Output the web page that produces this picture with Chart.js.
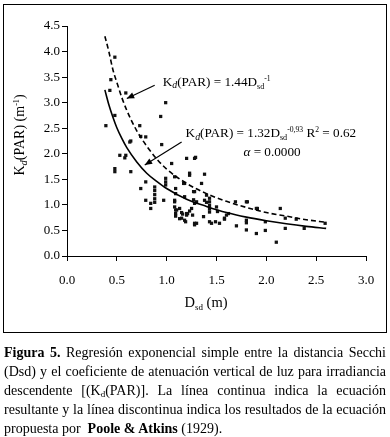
<!DOCTYPE html>
<html>
<head>
<meta charset="utf-8">
<script src="https://cdn.jsdelivr.net/npm/chart.js@4.4.1/dist/chart.umd.min.js"></script>
<style>
  html, body { margin: 0; padding: 0; background: #fff; width: 390px; height: 437px; overflow: hidden; }
  #c { position: absolute; left: 0; top: 0; }
  #frame { position: absolute; left: 3px; top: 4px; width: 382px; height: 327px; border: 1px solid #000; pointer-events: none; }
  #cap { position: absolute; left: 4px; top: 343px; width: 382px; font-family: "Liberation Serif", "Times New Roman", serif; font-size: 14px; line-height: 19px; color: #000; }
  #cap div { text-align: justify; text-align-last: justify; white-space: nowrap; }
  #cap div.last { text-align: left; text-align-last: left; }
  #cap sub { font-size: 9px; vertical-align: -2px; line-height: 0; }
</style>
</head>
<body>
<canvas id="c" width="390" height="335"></canvas>
<div id="frame"></div>
<div id="cap">
  <div><b>Figura 5.</b> Regresión exponencial simple entre la distancia Secchi</div>
  <div>(Dsd) y el coeficiente de atenuación vertical de luz para irradiancia</div>
  <div>descendente [(K<sub>d</sub>(PAR)]. La línea continua indica la ecuación</div>
  <div>resultante y la línea discontinua indica los resultados de la ecuación</div>
  <div class="last">propuesta por &nbsp;<b>Poole &amp; Atkins</b> (1929).</div>
</div>
<script>
// ---- data ----
const obsX = [0.39,0.43,0.44,0.48,0.59,0.48,0.94,0.99,0.73,0.74,0.79,0.95,0.64,
  0.48,0.48,0.53,0.59,0.58,0.64,0.63,0.79,0.74,
  0.88,0.88,0.88,0.88,0.88,0.84,0.84,0.79,0.97,0.99,0.99,0.99,
  1.05,1.08,1.09,1.09,1.08,1.08,1.09,1.09,1.09,1.13,1.13,1.15,1.16,1.18,1.19,1.20,1.21,1.23,1.25,1.26,1.28,1.30,
  1.20,1.28,1.29,1.28,1.30,1.18,1.23,1.23,1.38,1.35,1.18,1.28,1.38,
  1.43,1.43,1.43,1.43,1.43,1.50,1.51,1.60,1.58,1.43,1.49,1.28,1.70,1.80,1.80,1.90,1.99,2.10,2.19,1.80,1.90,1.99,2.14,2.19,2.30,2.38,2.59,1.69,1.58,
  1.27,1.27,1.40,1.40,1.37,1.53,1.45,1.62,1.80,1.81,1.91,1.10,1.15,1.20,1.08,1.17];
const obsY = [2.55,3.24,3.45,3.89,3.19,2.75,2.73,3.00,2.55,2.34,2.33,2.18,2.25,
  1.71,1.65,1.97,1.97,1.92,1.65,2.23,1.45,1.32,
  1.35,1.28,1.20,1.12,1.05,1.03,0.93,1.09,1.09,1.52,1.45,1.39,
  1.81,1.55,1.32,1.22,1.06,0.96,0.90,0.83,0.78,0.93,0.73,0.74,0.82,0.70,0.67,0.80,0.83,0.88,0.93,0.80,0.64,0.64,
  1.91,1.91,1.93,1.26,1.06,1.42,1.58,1.62,1.60,1.42,1.16,1.03,1.09,
  1.13,1.06,0.99,0.92,0.86,0.96,0.87,0.80,0.74,0.67,0.67,0.61,0.59,0.65,0.51,0.44,0.50,0.27,0.54,1.06,0.93,0.67,0.93,0.74,0.72,0.54,0.64,1.06,0.72,
  1.26,1.10,1.19,1.05,0.77,0.64,0.64,0.83,0.70,1.06,0.93,0.90,0.85,0.83,1.09,1.42];
// fitted curve: Kd(PAR) = 1.32 Dsd^-0.93 (solid)
const fitX = [0.38,0.42,0.46,0.50,0.55,0.60,0.70,0.80,0.90,1.00,1.20,1.40,1.60,1.80,2.00,2.20,2.40,2.60];
const fitY = [3.25,2.96,2.72,2.51,2.30,2.12,1.84,1.62,1.46,1.32,1.11,0.97,0.85,0.76,0.69,0.63,0.58,0.54];
// Poole & Atkins curve (dashed), as drawn
const pooleX = [0.38,0.42,0.46,0.50,0.55,0.60,0.70,0.80,0.90,1.00,1.20,1.40,1.60,1.80,2.00,2.20,2.40,2.60];
const pooleY = [4.30,4.00,3.65,3.40,3.10,2.85,2.45,2.15,1.90,1.70,1.42,1.22,1.07,0.95,0.85,0.78,0.71,0.66];
const xTicks = [0,0.5,1,1.5,2,2.5,3];
const yTicks = [0,0.5,1,1.5,2,2.5,3,3.5,4,4.5];

const toPts = (xs, ys) => xs.map((x, i) => ({ x: x, y: ys[i] }));
const SERIF = '"Liberation Serif", "Times New Roman", serif';

function drawRich(ctx, x, y, parts, size) {
  let cx = x;
  parts.forEach(p => {
    const t = p[0], kind = p[1] || 'n';
    let fs = size, dy = 0, style = '';
    if (kind === 'sub') { fs = size * 0.62; dy = size * 0.22; }
    if (kind === 'isub') { fs = size * 0.75; dy = size * 0.18; style = 'italic '; }
    if (kind === 'sup') { fs = size * 0.58; dy = -size * 0.38; }
    if (kind === 'it') { style = 'italic '; }
    ctx.font = style + fs + 'px ' + SERIF;
    ctx.fillText(t, cx, y + dy);
    cx += ctx.measureText(t).width;
  });
  return cx - x;
}

function arrow(ctx, x1, y1, x2, y2) {
  ctx.beginPath(); ctx.moveTo(x1, y1); ctx.lineTo(x2, y2); ctx.stroke();
  const a = Math.atan2(y2 - y1, x2 - x1), L = 8, w = 0.4;
  ctx.beginPath();
  ctx.moveTo(x2, y2);
  ctx.lineTo(x2 - L * Math.cos(a - w), y2 - L * Math.sin(a - w));
  ctx.lineTo(x2 - L * Math.cos(a + w), y2 - L * Math.sin(a + w));
  ctx.closePath(); ctx.fill();
}

const notes = {
  id: 'notes',
  afterDraw(chart) {
    const ctx = chart.ctx, xs = chart.scales.x, ys = chart.scales.y;
    const px = v => xs.getPixelForValue(v), py = v => ys.getPixelForValue(v);
    ctx.save();
    ctx.fillStyle = '#000'; ctx.strokeStyle = '#000'; ctx.lineWidth = 1.2;
    ctx.textBaseline = 'alphabetic'; ctx.textAlign = 'left';
    drawRich(ctx, px(0.96), py(3.33), [['K'],['d','isub'],['(PAR) = 1.44D'],['sd','sub'],['-1','sup']], 13.2);
    drawRich(ctx, px(1.19), py(2.32), [['K'],['d','isub'],['(PAR) = 1.32D'],['sd','sub'],['-0,93','sup'],[' R'],['2','sup'],[' = 0.62']], 13.2);
    drawRich(ctx, px(1.77), py(1.95), [['α','it'],[' = 0.0000']], 13.2);
    arrow(ctx, px(0.88), py(3.34), px(0.60), py(3.08));
    arrow(ctx, px(1.15), py(2.23), px(0.78), py(1.78));
    // x title
    const xt = [['D'],['sd','sub'],[' (m)']];
    ctx.save(); ctx.globalAlpha = 0; const w = drawRich(ctx, 0, 0, xt, 14.5); ctx.restore();
    drawRich(ctx, 206 - w / 2, 307, xt, 14.5);
    // y title
    const yt = [['K'],['d','isub'],['(PAR) (m'],['-1','sup'],[')']];
    ctx.save();
    ctx.translate(24, 135);
    ctx.rotate(-Math.PI / 2);
    ctx.globalAlpha = 0;
    const yw = drawRich(ctx, 0, 0, yt, 14);
    ctx.globalAlpha = 1;
    drawRich(ctx, -yw / 2, 0, yt, 14);
    ctx.restore();
    ctx.restore();
  }
};

new Chart(document.getElementById('c'), {
  type: 'scatter',
  data: {
    datasets: [
      { data: toPts(obsX, obsY), pointStyle: 'rect', pointRadius: 2.3, backgroundColor: '#111', borderWidth: 0, order: 3 },
      { data: toPts(fitX, fitY), showLine: true, borderColor: '#000', borderWidth: 1.6, pointRadius: 0, cubicInterpolationMode: 'monotone', order: 1 },
      { data: toPts(pooleX, pooleY), showLine: true, borderColor: '#000', borderWidth: 1.6, borderDash: [5, 3], pointRadius: 0, cubicInterpolationMode: 'monotone', order: 2 }
    ]
  },
  options: {
    responsive: false, animation: false, devicePixelRatio: 1,
    layout: { padding: { left: 0, right: 24, top: 26, bottom: 0 } },
    plugins: { legend: { display: false }, tooltip: { enabled: false } },
    scales: {
      x: {
        type: 'linear', min: 0, max: 3,
        afterBuildTicks: s => { s.ticks = xTicks.map(v => ({ value: v })); },
        afterFit: s => { s.height = 79; },
        ticks: { callback: v => v.toFixed(1), color: '#000', padding: 12, maxRotation: 0, font: { family: SERIF, size: 13 } },
        grid: { drawOnChartArea: false, drawTicks: true, tickLength: 5, color: '#000' },
        border: { color: '#000', width: 1 }
      },
      y: {
        type: 'linear', min: 0, max: 4.5,
        afterBuildTicks: s => { s.ticks = yTicks.map(v => ({ value: v })); },
        afterFit: s => { s.width = 67; },
        ticks: { callback: v => v.toFixed(1), color: '#000', padding: 2, font: { family: SERIF, size: 13 } },
        grid: { drawOnChartArea: false, drawTicks: true, tickLength: 5, color: '#000' },
        border: { color: '#000', width: 1 }
      }
    }
  },
  plugins: [notes]
});
</script>
</body>
</html>
